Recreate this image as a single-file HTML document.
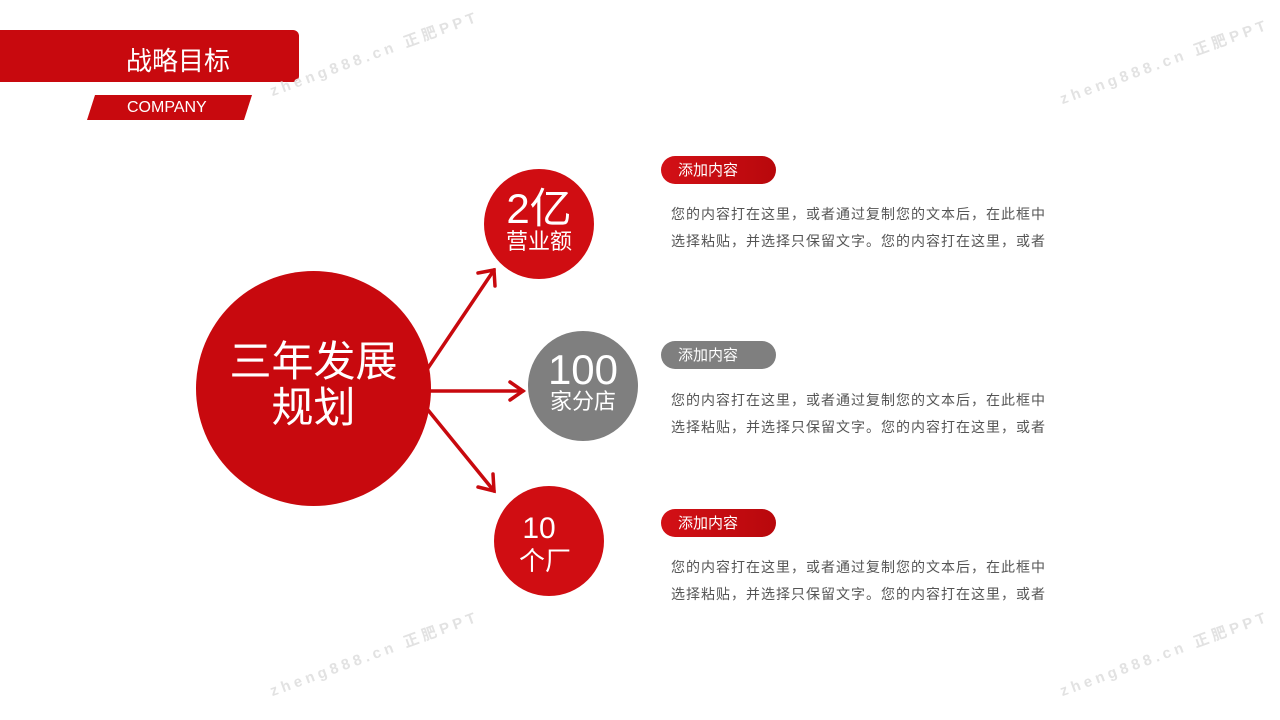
<!DOCTYPE html>
<html><head><meta charset="utf-8"><style>
body{margin:0;width:1280px;height:720px;background:#fff;position:relative;overflow:hidden;font-family:"Liberation Sans","Noto Sans CJK SC",sans-serif}
.abs{position:absolute}
.circ{position:absolute;border-radius:50%;color:#fff;text-align:center}
.pill{position:absolute;left:661px;width:115px;height:28px;border-radius:14px;color:#fff;font-size:15px;line-height:29px;text-indent:17px}
.txt{position:absolute;left:671px;font-size:14px;color:#555;letter-spacing:1px;line-height:27px;white-space:nowrap}
.wm{position:absolute;color:#e2e2e2;font-size:15px;letter-spacing:4px;transform:rotate(-20deg);transform-origin:left bottom;white-space:nowrap;font-weight:bold}
</style></head><body>
<div class="abs" style="left:0;top:30px;width:299px;height:52px;background:#c8090e;border-radius:0 6px 6px 0"></div>
<div class="abs" style="left:126px;top:44px;color:#fff;font-size:26px;line-height:34px">战略目标</div>
<div class="abs" style="left:87px;top:95px;width:165px;height:25px;background:#c8090e;clip-path:polygon(8px 0,100% 0,calc(100% - 8px) 100%,0 100%)"></div>
<div class="abs" style="left:127px;top:96px;color:#fff;font-size:16px;line-height:24px">COMPANY</div>

<div class="wm" style="left:274px;top:80px">zheng888.cn 正肥PPT</div>
<div class="wm" style="left:1064px;top:88px">zheng888.cn 正肥PPT</div>
<div class="wm" style="left:274px;top:680px">zheng888.cn 正肥PPT</div>
<div class="wm" style="left:1064px;top:680px">zheng888.cn 正肥PPT</div>

<svg class="abs" style="left:0;top:0" width="1280" height="720">
<g stroke="#c8090e" stroke-width="3.5" fill="none" stroke-linecap="round">
<line x1="428" y1="368" x2="494" y2="270"/>
<polyline points="478,273 494,270 495,286"/>
<line x1="428" y1="391" x2="523" y2="391"/>
<polyline points="510,382 523,391 510,400"/>
<line x1="428" y1="410" x2="494" y2="491"/>
<polyline points="478,487 494,491 493,474"/>
</g></svg>

<div class="circ" style="left:196px;top:271px;width:235px;height:235px;background:#c8090e">
<div style="margin-top:68px;font-size:42px;line-height:46px">三年发展<br>规划</div></div>
<div class="circ" style="left:484px;top:169px;width:110px;height:110px;background:#d00d12">
<div style="margin-top:18px;font-size:42px;line-height:44px">2亿</div><div style="font-size:22px;line-height:26px;margin-top:-2px">营业额</div></div>
<div class="circ" style="left:528px;top:331px;width:110px;height:110px;background:#7f7f7f">
<div style="margin-top:16px;font-size:42px;line-height:46px">100</div><div style="font-size:22px;line-height:26px;margin-top:-4px">家分店</div></div>
<div class="circ" style="left:494px;top:486px;width:110px;height:110px;background:#d00d12">
<div style="margin-top:26px;margin-left:-20px;font-size:30px;line-height:34px">10</div><div style="font-size:26px;line-height:30px;margin-left:-8px">个厂</div></div>

<div class="pill" style="top:156px;background:linear-gradient(90deg,#d31016,#b8080c)">添加内容</div>
<div class="pill" style="top:341px;background:#7f7f7f">添加内容</div>
<div class="pill" style="top:509px;background:linear-gradient(90deg,#d31016,#b8080c)">添加内容</div>

<div class="txt" style="top:201px">您的内容打在这里，或者通过复制您的文本后，在此框中<br>选择粘贴，并选择只保留文字。您的内容打在这里，或者</div>
<div class="txt" style="top:387px">您的内容打在这里，或者通过复制您的文本后，在此框中<br>选择粘贴，并选择只保留文字。您的内容打在这里，或者</div>
<div class="txt" style="top:554px">您的内容打在这里，或者通过复制您的文本后，在此框中<br>选择粘贴，并选择只保留文字。您的内容打在这里，或者</div>
</body></html>
